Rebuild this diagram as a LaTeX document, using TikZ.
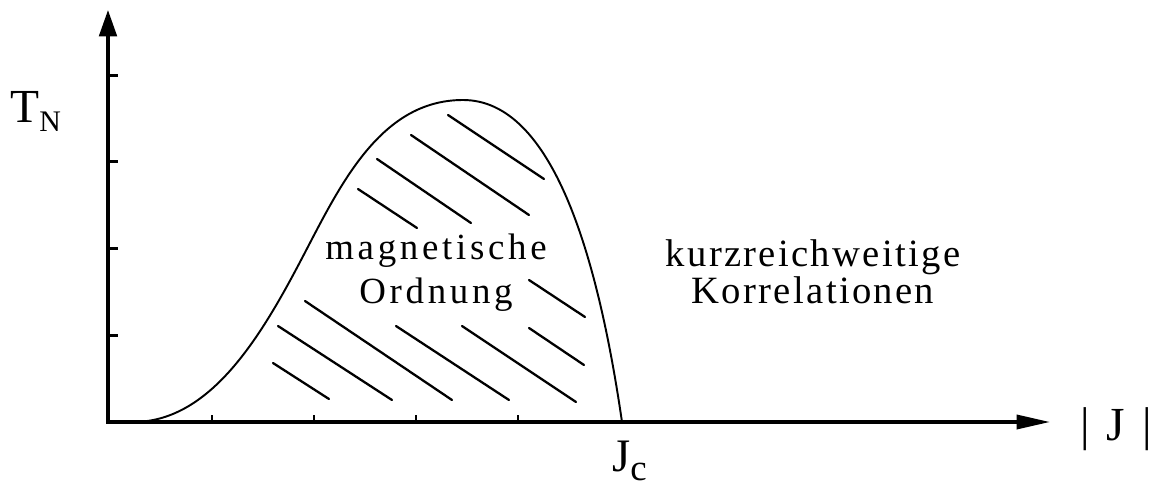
\documentclass[tikz,border=0pt]{standalone}
\usepackage{fontspec}
\setmainfont{Liberation Serif}
\newfontfamily\widefont[LetterSpace=10]{Liberation Serif}
\newfontfamily\semiwidefont[LetterSpace=6]{Liberation Serif}
\usetikzlibrary{arrows.meta}

\begin{document}
\begin{tikzpicture}[x=0.02cm, y=0.02cm, line join=round, line cap=round,
    every node/.style={inner sep=0pt},
    axis/.style={line width=1.9pt, line join=miter, line cap=butt,
      {Triangle[length=15pt, width=10pt]}-{Triangle[length=19pt, width=8pt]}},
    tick/.style={line width=1.7pt, line cap=butt},
    hatch/.style={line width=1.3pt}]
    \useasboundingbox (-108,-65) rectangle (1044,422);
    \path
    (0,0) coordinate (O)
    (0,412) coordinate (Y)
    (942,0) coordinate (X)
    (25,0) coordinate (S)
    (192,160) coordinate (W)
    (355,322) coordinate (P)
    (514,0) coordinate (Jc)
    ;
    \draw[axis] (Y)--(O)--(X);

    \foreach \i in {1,...,4}{
        \draw[tick] (0,\i*86.7) -- ++(10,0);
        \draw[tick] (\i*102+2,0) -- ++(0,7);
    }

    % Neel temperature curve
    \draw[line width=1.1pt] (S) .. controls (100,0) and (150,80) .. (W)
        .. controls (230,232) and (270,322) .. (P)
        .. controls (445,322) and (490,165) .. (Jc);

    % hatching
    \foreach \a/\b/\c/\d in {340/307/436/243, 303/287/421/207, 269/263/363/199,
        250/233/309/194, 421/142/477/105, 421/94/476/57, 354/96/468/20,
        288/96/401/22, 197/121/344/22, 170/96/284/22, 165/59/221/23}{
        \draw[hatch] (\a,\b) -- (\c,\d);
    }

    \node[anchor=base west, font=\fontsize{27}{30}\selectfont] (TN) at (-98,299)
        {T\raisebox{-5pt}{\fontsize{17}{20}\selectfont N}};
    \node[anchor=base west, font=\fontsize{26.5}{30}\selectfont] (Jclabel) at (504,-49)
        {J\raisebox{-5.5pt}{\fontsize{21}{24}\selectfont c}};
    \node[anchor=base, font=\fontsize{27}{30}\selectfont] (absJ) at (1008,-18)
        {|\hspace{3pt} J \hspace{3pt}|};

    \node[anchor=base, align=center, font=\widefont\fontsize{21}{24.5}\selectfont] (order)
        at (328,119) {magnetische\\Ordnung};
    \node[anchor=base, align=center, font=\semiwidefont\fontsize{22}{19.3}\selectfont] (correl)
        at (705,119) {kurzreichweitige\\Korrelationen};
\end{tikzpicture}
\end{document}
